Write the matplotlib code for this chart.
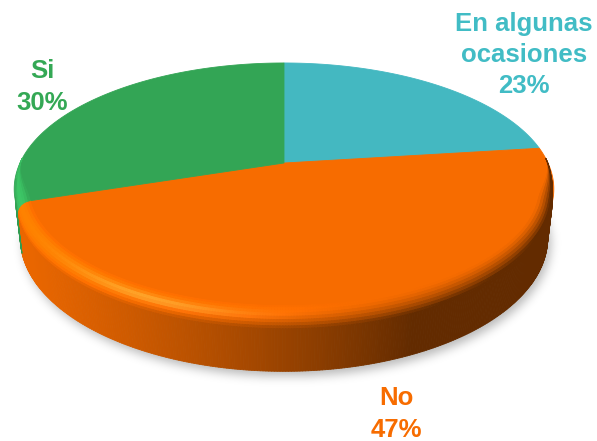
import matplotlib

matplotlib.use("Agg")
import matplotlib.pyplot as plt
import numpy as np
from matplotlib.collections import PolyCollection
from matplotlib.colors import to_rgb
from matplotlib.patches import Polygon
from matplotlib.path import Path

labels = ["En algunas\nocasiones", "No", "Si"]
values = [23, 47, 30]
colors = ["#44b8c1", "#f76c00", "#33a555"]
label_colors = ["#41bcc5", "#f76c00", "#34a855"]
label_pos = [(524, 55), (396, 414), (42, 87)]

W, H = 597, 441

# perspective camera looking down at the disk
CX, CY = 284.0, 163.0
SCALE = 264.0
TILT = np.radians(27.2)
DIST = 4.31
DEPTH = 0.21
BEVEL = 0.05
CAM = np.array([0.0, -DIST * np.cos(TILT), DIST * np.sin(TILT)])

LIGHT = np.array([-0.616, -0.271, 0.739])
LIGHT = LIGHT / np.linalg.norm(LIGHT)
AMBIENT, DIFFUSE, SPEC = 0.4, 0.8115, 0.17


def project(x, y, z):
    depth = DIST + y * np.cos(TILT) - z * np.sin(TILT)
    u = CX + SCALE * DIST * x / depth
    v = CY - SCALE * DIST * (y * np.sin(TILT) + z * np.cos(TILT)) / depth
    return u, v


def shade(base, normal, point):
    view = CAM - point
    view = view / np.linalg.norm(view)
    half = LIGHT + view
    half = half / np.linalg.norm(half)
    k = AMBIENT + DIFFUSE * max(0.0, float(normal @ LIGHT))
    spec = SPEC * max(0.0, float(normal @ half)) ** 30
    return np.clip(np.array(base) * k + spec, 0, 1)


def bevel_width(t):
    # rounded rim only on the near half, fading out toward the sides
    s = np.clip((0.05 - np.sin(t)) / 0.35, 0, 1)
    return BEVEL * s * s * (3 - 2 * s)


def rim_point(t, j, theta):
    """Point on the rim profile: j indexes theta for the bevel, -1 is the wall bottom."""
    w = bevel_width(t)
    if j < 0:
        r, z = 1.0, -DEPTH
    else:
        r = 1 - w + w * np.sin(theta[j])
        z = -w + w * np.cos(theta[j])
    return np.array([r * np.cos(t), r * np.sin(t), z])


def rim_quads(base, t, theta):
    polys, cols = [], []
    rows = list(range(len(theta))) + [-1]
    for a in range(len(rows) - 1):
        ja, jb = rows[a], rows[a + 1]
        if jb < 0:
            nr, nz = 1.0, 0.0
        else:
            tm_ = 0.5 * (theta[ja] + theta[jb])
            nr, nz = np.sin(tm_), np.cos(tm_)
        for k in range(len(t) - 1):
            tm = 0.5 * (t[k] + t[k + 1])
            n = np.array([np.cos(tm) * nr, np.sin(tm) * nr, nz])
            corners = [rim_point(t[k], ja, theta), rim_point(t[k + 1], ja, theta),
                       rim_point(t[k + 1], jb, theta), rim_point(t[k], jb, theta)]
            p = np.mean(corners, axis=0)
            if n @ (CAM - p) <= 0:
                continue
            if jb >= 0 and bevel_width(tm) < 1e-4:
                continue
            polys.append([project(*c) for c in corners])
            cols.append(shade(base, n, p))
    return polys, cols


def blur(img, sigma):
    x = np.arange(-3 * sigma, 3 * sigma + 1)
    kern = np.exp(-0.5 * (x / sigma) ** 2)
    kern /= kern.sum()
    img = np.apply_along_axis(lambda r: np.convolve(r, kern, mode="same"), 1, img)
    img = np.apply_along_axis(lambda c: np.convolve(c, kern, mode="same"), 0, img)
    return img


fig = plt.figure(figsize=(W / 100, H / 100), dpi=100)
ax = fig.add_axes([0, 0, 1, 1])
ax.set_xlim(0, W)
ax.set_ylim(H, 0)
ax.axis("off")

# soft drop shadow under the base
ring = np.linspace(0, 2 * np.pi, 361)
su, sv = project(np.cos(ring), np.sin(ring), -DEPTH)
yy, xx = np.mgrid[0:H, 0:W]
inside = Path(np.column_stack([su + 3, sv + 5])).contains_points(
    np.column_stack([xx.ravel() + 0.5, yy.ravel() + 0.5])).reshape(H, W)
shadow = blur(inside.astype(float), 5)
rgba = np.zeros((H, W, 4))
rgba[..., 3] = 0.28 * shadow
ax.imshow(rgba, extent=(0, W, H, 0), origin="upper", zorder=0, interpolation="bilinear")

# wedge angles, clockwise from 12 o'clock
frac = np.array(values) / np.sum(values)
ends = 90 - 360 * np.cumsum(frac)
starts = ends + 360 * frac
theta = np.linspace(0, np.pi / 2, 9)

# flat top face out to the full radius; the rounded rim is drawn over it
for a0, a1, col in zip(ends, starts, colors):
    t = np.radians(np.linspace(a0, a1, max(int((a1 - a0) * 2), 4)))
    u, v = project(np.cos(t), np.sin(t), 0.0)
    cu, cv = project(0.0, 0.0, 0.0)
    pts = np.column_stack([np.r_[cu, u], np.r_[cv, v]])
    ax.add_patch(Polygon(pts, closed=True, facecolor=col, edgecolor=col,
                         linewidth=0.6, zorder=2))

all_polys, all_cols = [], []
for a0, a1, col in zip(ends, starts, colors):
    t = np.radians(np.linspace(a0, a1, max(int((a1 - a0) * 2), 4)))
    p, c = rim_quads(to_rgb(col), t, theta)
    all_polys += p
    all_cols += c

ax.add_collection(PolyCollection(all_polys, facecolors=all_cols, edgecolors=all_cols,
                                 linewidths=0.6, zorder=3))

for lab, val, lc, (x, y) in zip(labels, values, label_colors, label_pos):
    ax.text(x, y, f"{lab}\n{val}%", ha="center", va="center", color=lc,
            fontsize=18.5, fontweight="bold", family="Liberation Sans",
            linespacing=1.38, zorder=5)

fig.savefig("out.png", dpi=100, facecolor="white")
